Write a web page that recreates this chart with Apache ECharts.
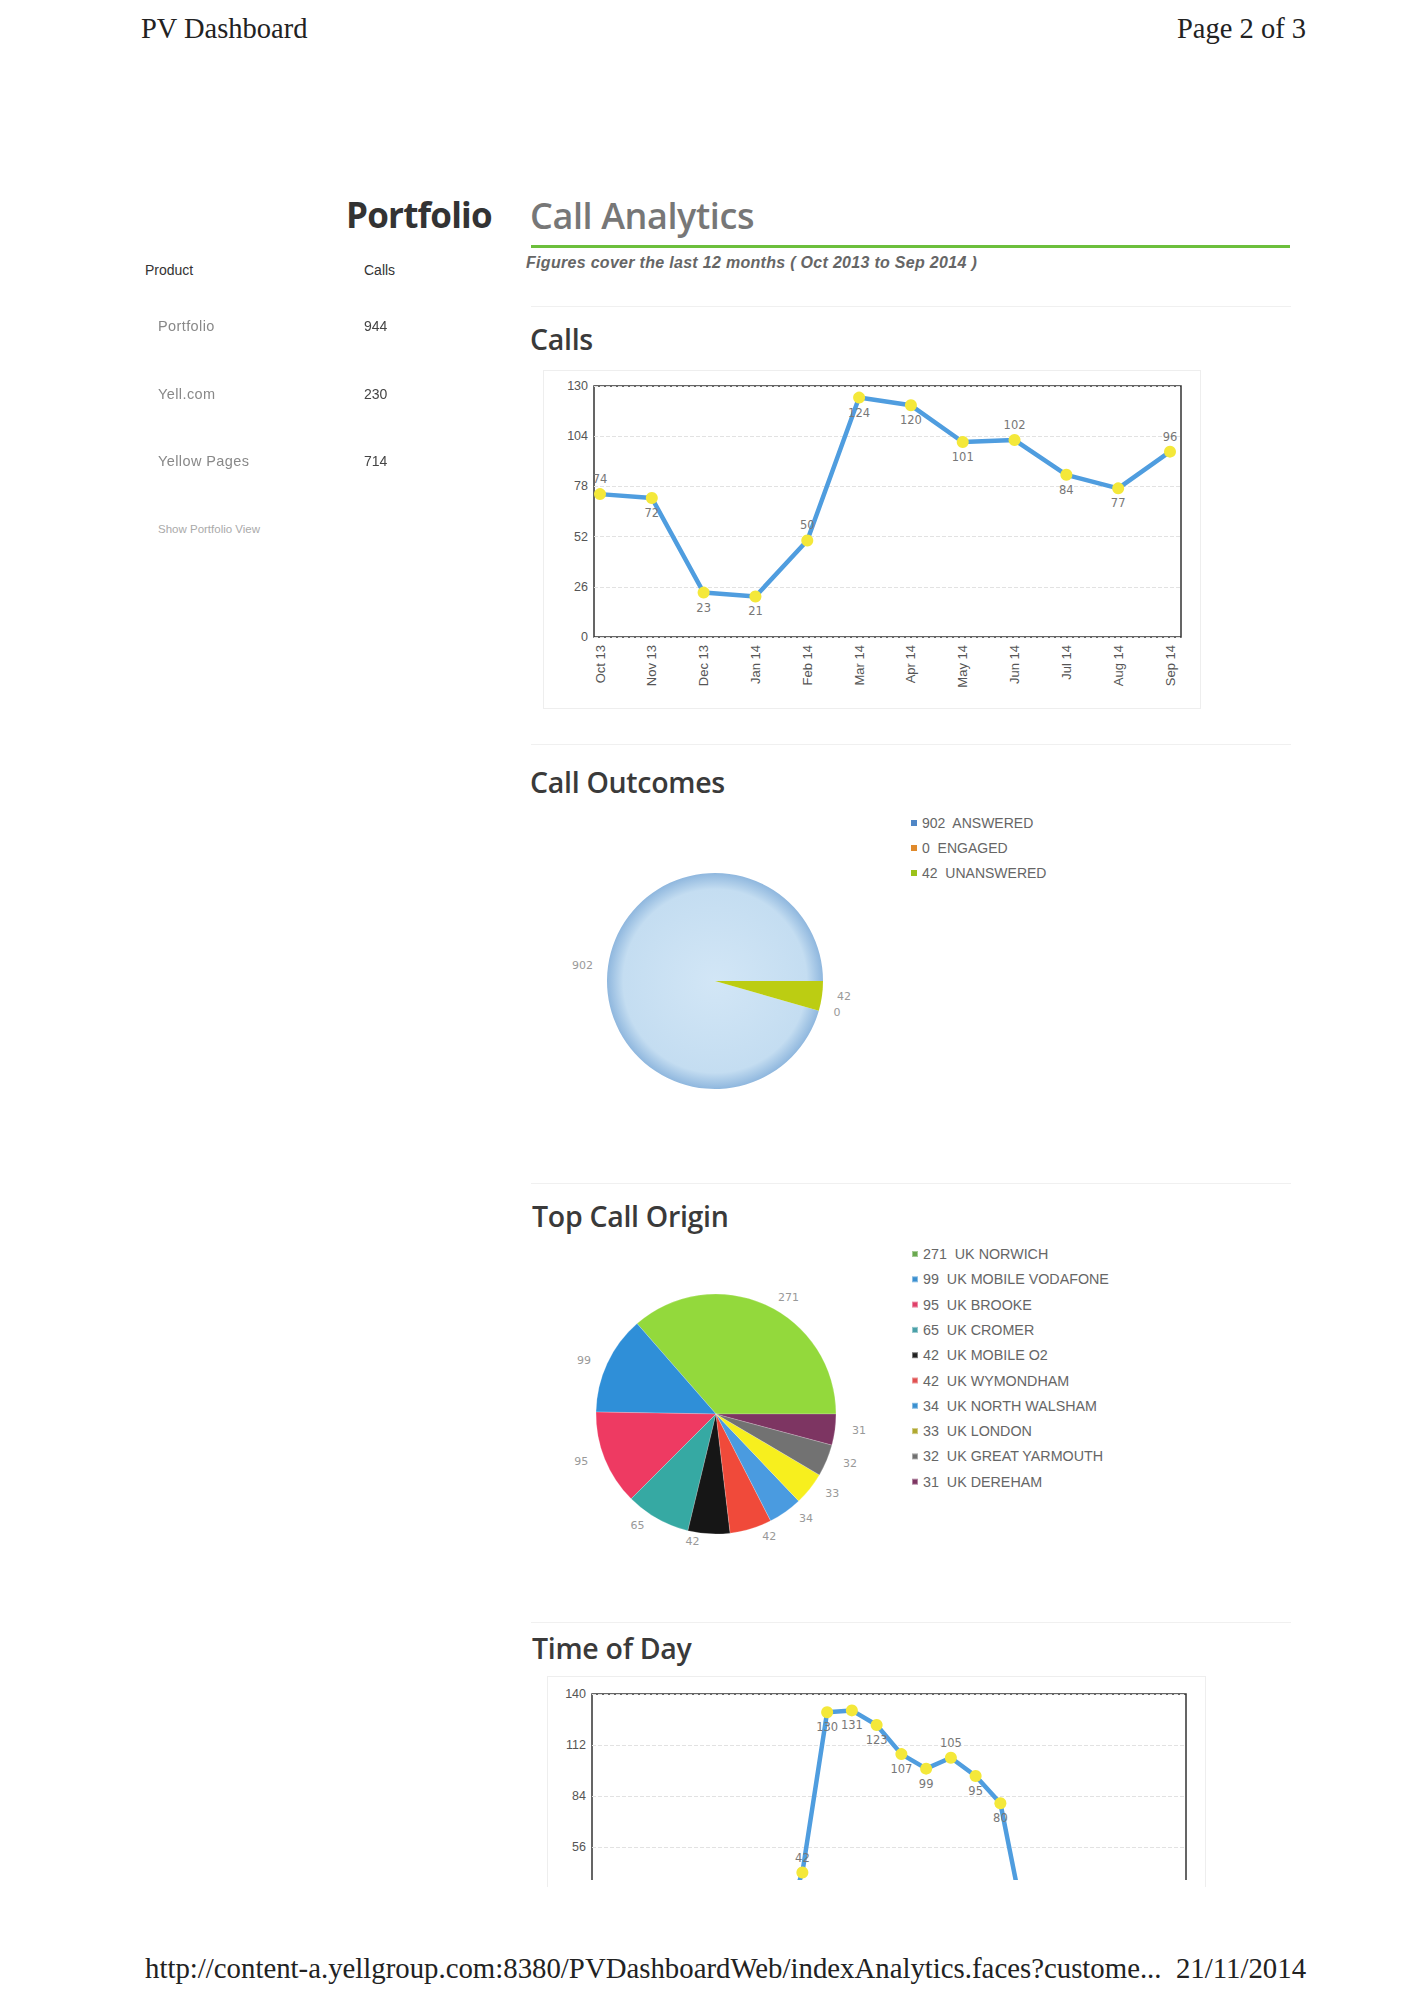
<!DOCTYPE html>
<html>
<head>
<meta charset="utf-8">
<script src="https://cdn.jsdelivr.net/npm/echarts@6/dist/echarts.min.js"></script>
<style>
  html, body { margin: 0; padding: 0; background: #fff; }
  body { width: 1425px; height: 2016px; position: relative; overflow: hidden; }
  .abs { position: absolute; white-space: nowrap; }
  .serif { font-family: "Liberation Serif", "DejaVu Serif", serif; color: #222; font-size: 28.5px; }
  .head { font-family: "Open Sans", "DejaVu Sans", sans-serif; font-weight: 600; color: #3a3a3a; font-size: 28.5px; letter-spacing: -0.3px; }
  .tbl { font-family: "Liberation Sans", Arial, sans-serif; font-size: 13.5px; }
  .sep { position: absolute; left: 531px; width: 760px; height: 1px; background: #f0f0f0; }
  .box { position: absolute; border: 1px solid #eeeeee; }
</style>
</head>
<body>
<div class="abs serif" style="left:141px; top:13px;">PV Dashboard</div>
<div class="abs serif" style="right:119px; top:13px;">Page 2 of 3</div>

<div class="abs head" style="left:346px; top:191px; font-size:35px; font-weight:700; color:#333; letter-spacing:-0.8px;">Portfolio</div>
<div class="abs head" style="left:530px; top:191px; font-size:36px; font-weight:600; color:#777; letter-spacing:-0.4px;">Call Analytics</div>
<div class="abs" style="left:531px; top:245px; width:759px; height:3px; background:#6cbf3c;"></div>
<div class="abs tbl" style="left:526px; top:254px; font-size:16px; letter-spacing:0.3px; font-style:italic; font-weight:bold; color:#666;">Figures cover the last 12 months ( Oct 2013 to Sep 2014 )</div>

<div class="abs tbl" style="left:145px; top:262px; color:#333; font-size:14px;">Product</div>
<div class="abs tbl" style="left:364px; top:262px; color:#333; font-size:14px;">Calls</div>
<div class="abs tbl" id="rows"></div>
<div class="abs tbl" style="left:158px; top:523px; font-size:11.5px; color:#aaa;">Show Portfolio View</div>

<div class="sep" style="top:306px;"></div>
<div class="abs head" style="left:530px; top:320px;">Calls</div>
<div class="box" style="left:543px; top:370px; width:656px; height:337px;"></div>
<div id="calls" class="abs" style="left:531px; top:360px; width:700px; height:360px;"></div>

<div class="sep" style="top:744px;"></div>
<div class="abs head" style="left:530px; top:763px;">Call Outcomes</div>
<div id="outcomes" class="abs" style="left:531px; top:790px; width:700px; height:340px;"></div>

<div class="sep" style="top:1183px;"></div>
<div class="abs head" style="left:532px; top:1197px;">Top Call Origin</div>
<div id="origin" class="abs" style="left:531px; top:1240px; width:700px; height:340px;"></div>

<div class="sep" style="top:1622px;"></div>
<div class="abs head" style="left:532px; top:1629px;">Time of Day</div>
<div class="box" style="left:547px; top:1676px; width:657px; height:210px; border-bottom:none;"></div>
<div class="abs" style="left:531px; top:1665px; width:700px; height:215px; overflow:hidden;">
  <div id="tod" style="position:absolute; left:0; top:0; width:700px; height:400px;"></div>
</div>

<div class="abs serif" style="left:145px; top:1952px; font-size:28.8px;">http://content-a.yellgroup.com:8380/PVDashboardWeb/indexAnalytics.faces?custome...&nbsp;&nbsp;21/11/2014</div>

<script>
// ---------- DATA ----------
const productNames = ['Portfolio', 'Yell.com', 'Yellow Pages'];
const productCalls = [944, 230, 714];

const months = ['Oct 13','Nov 13','Dec 13','Jan 14','Feb 14','Mar 14','Apr 14','May 14','Jun 14','Jul 14','Aug 14','Sep 14'];
const monthlyCalls = [74, 72, 23, 21, 50, 124, 120, 101, 102, 84, 77, 96];
const callsTicks = { min: 0, max: 130, interval: 26 };

const outcomeNames = ['ANSWERED', 'ENGAGED', 'UNANSWERED'];
const outcomeValues = [902, 0, 42];

const originNames = ['UK NORWICH','UK MOBILE VODAFONE','UK BROOKE','UK CROMER','UK MOBILE O2','UK WYMONDHAM','UK NORTH WALSHAM','UK LONDON','UK GREAT YARMOUTH','UK DEREHAM'];
const originValues = [271, 99, 95, 65, 42, 42, 34, 33, 32, 31];

const hours = ['00','01','02','03','04','05','06','07','08','09','10','11','12','13','14','15','16','17','18','19','20','21','22','23'];
const hourCalls = [0, 0, 0, 0, 0, 0, 0, 3, 42, 130, 131, 123, 107, 99, 105, 95, 80, 12, 4, 2, 1, 0, 0, 0];
const todTicks = { min: 0, max: 140, interval: 28 };
const todVisibleFrom = 56; // the page cuts the chart off below this level

// ---------- STYLES ----------
const outcomeColors = [
  { type: 'radial', x: 0.5, y: 0.5, r: 0.5, colorStops: [
    { offset: 0, color: '#d2e6f6' }, { offset: 0.85, color: '#c4ddf1' }, { offset: 1, color: '#8fb7de' } ] },
  '#e08a2c', '#bccd12'
];
const outcomeLegendColors = ['#4f86c6', '#e08a2c', '#9cc21a'];
const originColors = ['#93d93c','#2f8fd8','#ee3a62','#36a9a3','#161616','#f04a3a','#4a9be0','#f7ef1e','#727272','#7d3562'];
const originLegendColors = ['#6aa84f','#3a8fd0','#e0406a','#4aa0a8','#222222','#e05050','#3a90d0','#b0a830','#707070','#7d3562'];

// ---------- TABLE ----------
(function () {
  const wrap = document.getElementById('rows');
  const tops = [318, 386, 453];
  productNames.forEach((n, i) => {
    const a = document.createElement('div');
    a.className = 'abs tbl'; a.style.cssText = 'position:fixed;left:158px;top:' + tops[i] + 'px;color:#888;font-size:14.5px;letter-spacing:0.4px;';
    a.textContent = n;
    const b = document.createElement('div');
    b.className = 'abs tbl'; b.style.cssText = 'position:fixed;left:364px;top:' + tops[i] + 'px;color:#444;font-size:14px;';
    b.textContent = productCalls[i];
    wrap.appendChild(a); wrap.appendChild(b);
  });
})();

function labelPos(arr, max) {
  return arr.map((v, i) => (i === 0 || (v > arr[i - 1] && v < 0.9 * max)) ? 'top' : 'bottom');
}
const lineBlue = '#4f9ddf';
const dotYellow = '#f4e83a';
const axisTxt = { color: '#555', fontSize: 12.5, fontFamily: 'Liberation Sans, Arial, sans-serif' };
const ptLabel = { show: true, color: '#777', fontSize: 11.5, distance: 3, fontFamily: 'DejaVu Sans, sans-serif' };

// ---------- CALLS CHART ----------
(function () {
  const c = echarts.init(document.getElementById('calls'), null, { renderer: 'svg' });
  const pos = labelPos(monthlyCalls, callsTicks.max);
  c.setOption({
    animation: false,
    grid: [
      { left: 63, top: 26, width: 587, height: 251, show: true, borderColor: '#333', borderWidth: 1.5, backgroundColor: 'transparent' },
      { left: 69, top: 26, width: 570, height: 251 }
    ],
    xAxis: [
      { gridIndex: 0, type: 'value', show: false, min: 0, max: 1 },
      { gridIndex: 1, type: 'category', data: months, boundaryGap: false,
        axisLine: { show: false }, axisTick: { show: false },
        axisLabel: Object.assign({ rotate: 90, margin: 8, interval: 0 }, axisTxt, { fontSize: 13 }) }
    ],
    yAxis: [
      { gridIndex: 0, type: 'value', min: callsTicks.min, max: callsTicks.max, interval: callsTicks.interval,
        axisLine: { show: false }, axisTick: { show: false },
        axisLabel: Object.assign({ margin: 6 }, axisTxt),
        splitLine: { show: true, lineStyle: { color: '#e2e2e2', type: 'dashed' } } },
      { gridIndex: 1, type: 'value', min: callsTicks.min, max: callsTicks.max, show: false, splitLine: { show: false } }
    ],
    series: [{
      type: 'line', xAxisIndex: 1, yAxisIndex: 1,
      data: monthlyCalls.map((v, i) => ({ value: v, label: { position: pos[i] } })),
      lineStyle: { color: lineBlue, width: 4.5 },
      itemStyle: { color: dotYellow },
      symbol: 'circle', symbolSize: 12,
      label: ptLabel
    }]
  });
})();

// ---------- CALL OUTCOMES ----------
(function () {
  const c = echarts.init(document.getElementById('outcomes'), null, { renderer: 'svg' });
  c.setOption({
    animation: false,
    legend: {
      orient: 'vertical', left: 375, top: 21, itemWidth: 6, itemHeight: 6, itemGap: 11, icon: 'rect',
      selectedMode: false,
      textStyle: { color: '#666', fontSize: 14, fontFamily: 'Liberation Sans, Arial, sans-serif' },
      formatter: (name) => outcomeValues[outcomeNames.indexOf(name)] + '  ' + name,
      data: outcomeNames.map((n, i) => ({ name: n, itemStyle: { color: outcomeLegendColors[i] } }))
    },
    series: [{
      type: 'pie', center: [184, 191], radius: 108, startAngle: 0, clockwise: false,
      avoidLabelOverlap: true,
      label: { show: true, position: 'outside', formatter: '{c}', color: '#999', fontSize: 11, fontFamily: 'DejaVu Sans, sans-serif' },
      labelLine: { show: false, length: 6, length2: 4 },
      itemStyle: { borderWidth: 0 },
      data: outcomeNames.map((n, i) => ({ name: n, value: outcomeValues[i], itemStyle: { color: outcomeColors[i] } }))
    }]
  });
})();

// ---------- TOP CALL ORIGIN ----------
(function () {
  const c = echarts.init(document.getElementById('origin'), null, { renderer: 'svg' });
  c.setOption({
    animation: false,
    legend: {
      orient: 'vertical', left: 375, top: 2, itemWidth: 6, itemHeight: 6, itemGap: 11.3, icon: 'rect',
      selectedMode: false,
      textStyle: { color: '#666', fontSize: 14.3, fontFamily: 'Liberation Sans, Arial, sans-serif' },
      formatter: (name) => originValues[originNames.indexOf(name)] + '  ' + name,
      data: originNames.map((n, i) => ({ name: n, itemStyle: { color: originLegendColors[i] } }))
    },
    series: [{
      type: 'pie', center: [185, 174], radius: 120, startAngle: 0, clockwise: false,
      avoidLabelOverlap: true,
      label: { show: true, position: 'outside', formatter: '{c}', color: '#999', fontSize: 11, fontFamily: 'DejaVu Sans, sans-serif' },
      labelLine: { show: false, length: 8, length2: 4 },
      itemStyle: { borderWidth: 0.5, borderColor: 'rgba(255,255,255,0.4)' },
      data: originNames.map((n, i) => ({ name: n, value: originValues[i], itemStyle: { color: originColors[i] } }))
    }]
  });
})();

// ---------- TIME OF DAY ----------
(function () {
  const c = echarts.init(document.getElementById('tod'), null, { renderer: 'svg' });
  const pos = labelPos(hourCalls, todTicks.max);
  c.setOption({
    animation: false,
    grid: [{ left: 61, top: 29, width: 594, height: 255, show: true, borderColor: '#333', borderWidth: 1.5 }],
    xAxis: [{ type: 'category', data: hours, boundaryGap: true,
      axisLine: { show: false }, axisTick: { show: false },
      axisLabel: { show: false } }],
    yAxis: [{ type: 'value', min: todTicks.min, max: todTicks.max, interval: todTicks.interval,
      axisLine: { show: false }, axisTick: { show: false },
      axisLabel: Object.assign({ margin: 6, formatter: (v) => v >= todVisibleFrom ? String(v) : '' }, axisTxt),
      splitLine: { show: true, lineStyle: { color: '#e2e2e2', type: 'dashed' } } }],
    series: [{
      type: 'line',
      data: hourCalls.map((v, i) => ({ value: v, label: { position: pos[i], show: v >= 30 } })),
      lineStyle: { color: lineBlue, width: 4.5 },
      itemStyle: { color: dotYellow },
      symbol: 'circle', symbolSize: 12,
      label: ptLabel
    }]
  });
})();
</script>
</body>
</html>
